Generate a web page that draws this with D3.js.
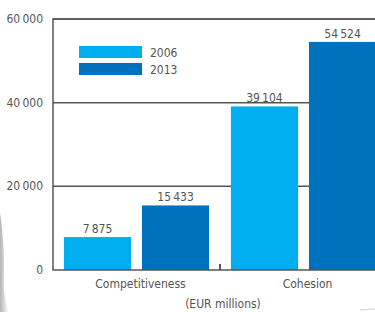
<!DOCTYPE html>
<html>
<head>
<meta charset="utf-8">
<script src="https://cdn.jsdelivr.net/npm/d3@7"></script>
<style>
  body { margin: 0; background: #fff; }
  svg text { font-family: "Liberation Sans Narrow", "DejaVu Sans Condensed", sans-serif; fill: #555; font-size: 12px; }
</style>
</head>
<body>
<svg id="chart" width="375" height="312"></svg>
<script>
// datos
var categorias = ["Competitiveness", "Cohesion"];
var series = ["2006", "2013"];
var valores2006 = [7875, 39104];
var valores2013 = [15433, 54524];
var ticks = [0, 20000, 40000, 60000];
var colores = ["#00aeef", "#0071bc"];

var svg = d3.select("#chart");
var w = 375, h = 312;

// sombra de la esquina (efecto pagina)
var defs = svg.append("defs");
var grad = defs.append("linearGradient").attr("id", "sombra").attr("x1", 0).attr("x2", 1);
grad.append("stop").attr("offset", "0%").attr("stop-color", "#b5b5b5");
grad.append("stop").attr("offset", "100%").attr("stop-color", "#fff");
svg.append("path")
  .attr("d", "M0,212 Q5,250 4,275 Q3,300 9,312 L0,312 Z")
  .attr("fill", "url(#sombra)");
svg.append("line")
  .attr("x1", 360).attr("x2", 375).attr("y1", 310).attr("y2", 309)
  .attr("stroke", "#ddd").attr("stroke-width", 1.5);

var x0 = d3.scaleBand().domain(categorias).range([53, 387]);
var x1 = d3.scaleBand().domain(series).range([0, x0.bandwidth()]).padding(0.14);
var y = d3.scaleLinear().domain([0, 60000]).range([270, 19]);

var fmt = function(v) { return d3.format(",")(v).replace(/,/g, "\u2009"); };

// lineas de la grilla
svg.append("g").selectAll("line")
  .data(ticks.filter(function(d) { return d > 0; }))
  .join("line")
  .attr("x1", 53).attr("x2", w)
  .attr("y1", function(d) { return y(d); })
  .attr("y2", function(d) { return y(d); })
  .attr("stroke", "#555").attr("stroke-width", 1.5);

// barras
var datos = [];
categorias.forEach(function(c, i) {
  datos.push({ cat: c, serie: "2006", v: valores2006[i] });
  datos.push({ cat: c, serie: "2013", v: valores2013[i] });
});

svg.append("g").selectAll("rect")
  .data(datos)
  .join("rect")
  .attr("x", function(d) { return x0(d.cat) + x1(d.serie); })
  .attr("width", x1.bandwidth())
  .attr("y", function(d) { return y(d.v); })
  .attr("height", function(d) { return y(0) - y(d.v); })
  .attr("fill", function(d) { return colores[series.indexOf(d.serie)]; });

svg.append("g").selectAll("text")
  .data(datos)
  .join("text")
  .attr("x", function(d) { return x0(d.cat) + x1(d.serie) + x1.bandwidth() / 2; })
  .attr("y", function(d) { return y(d.v) - 4; })
  .attr("text-anchor", "middle")
  .text(function(d) { return fmt(d.v); });

// ejes
svg.append("path")
  .attr("d", "M" + w + "," + y(60000) + "H53V" + y(0) + "H" + w)
  .attr("fill", "none").attr("stroke", "#555").attr("stroke-width", 1.5);
svg.append("line")
  .attr("x1", x0("Cohesion")).attr("x2", x0("Cohesion"))
  .attr("y1", y(0) - 6).attr("y2", y(0))
  .attr("stroke", "#555").attr("stroke-width", 2);

svg.append("g").selectAll("text")
  .data(ticks)
  .join("text")
  .attr("x", 43)
  .attr("y", function(d) { return y(d) + 4; })
  .attr("text-anchor", "end")
  .text(function(d) { return fmt(d); });

svg.append("g").selectAll("text")
  .data(categorias)
  .join("text")
  .attr("x", function(d) { return x0(d) + x0.bandwidth() / 2 + 4; })
  .attr("y", 288)
  .attr("text-anchor", "middle")
  .text(function(d) { return d; });

svg.append("text")
  .attr("x", 223).attr("y", 308)
  .attr("text-anchor", "middle")
  .text("(EUR millions)");

// leyenda
var ley = svg.append("g").selectAll("g")
  .data(series)
  .join("g")
  .attr("transform", function(d, i) { return "translate(79," + (46 + i * 17) + ")"; });
ley.append("rect").attr("width", 63).attr("height", 12)
  .attr("fill", function(d, i) { return colores[i]; });
ley.append("text").attr("x", 71).attr("y", 10.5).text(function(d) { return d; });
</script>
</body>
</html>
